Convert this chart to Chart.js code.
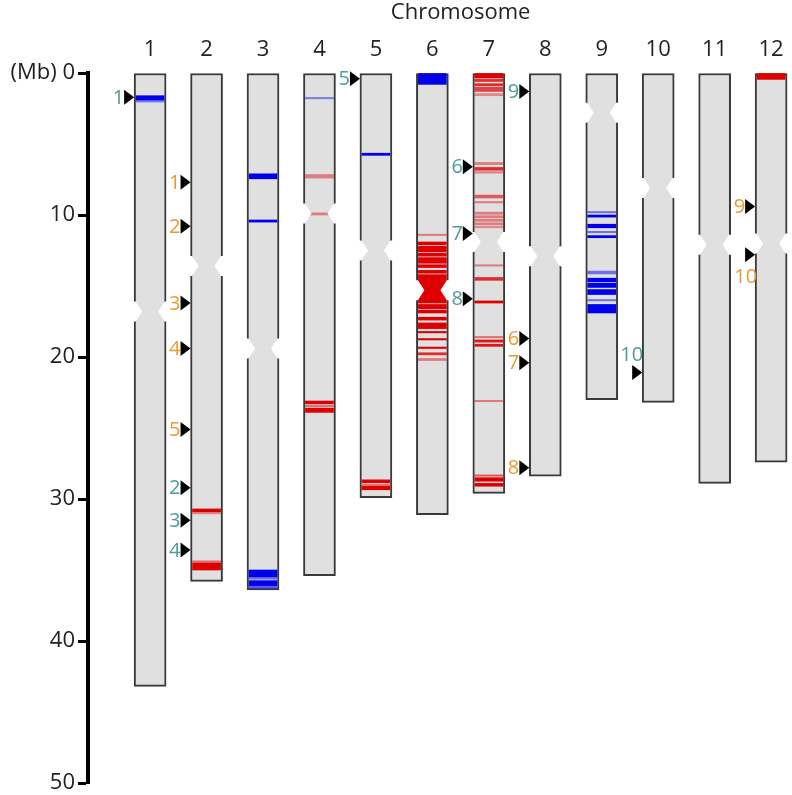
<!DOCTYPE html>
<html>
<head>
<meta charset="utf-8">
<script src="https://cdn.jsdelivr.net/npm/chart.js@4.4.1/dist/chart.umd.min.js"></script>
<style>
  html, body { margin: 0; padding: 0; background: #fff; }
</style>
</head>
<body>
<canvas id="chart" width="792" height="795"></canvas>
<script>
// Chromosomes, lengths and centromere positions (Mb)
const chromosomes = ['1', '2', '3', '4', '5', '6', '7', '8', '9', '10', '11', '12'];
const chromLength = [43.2, 35.8, 36.4, 35.4, 29.9, 31.1, 29.6, 28.4, 23.0, 23.2, 28.9, 27.4];
const centromere = [16.8, 13.6, 19.4, 9.9, 12.5, 15.3, 11.9, 12.9, 2.8, 8.1, 12.1, 12.0];
const yTicks = [0, 10, 20, 30, 40, 50];

// Bands: [chromosome, start Mb, end Mb, strength]
const redBands = [
    [2, 30.7, 30.9, 1], [2, 30.9, 31.05, 0.4], [2, 34.35, 34.45, 0.5], [2, 34.5, 35.0, 1],
    [4, 7.15, 7.4, 0.45], [4, 9.85, 10.0, 0.45], [4, 23.1, 23.3, 1], [4, 23.4, 23.5, 0.5], [4, 23.6, 23.9, 1],
    [5, 28.65, 28.85, 1], [5, 28.95, 29.05, 0.5], [5, 29.1, 29.35, 1],
    [6, 11.35, 11.45, 0.45], [6, 11.9, 12.1, 1], [6, 12.2, 12.6, 1], [6, 12.7, 12.9, 1], [6, 13.0, 13.4, 1],
    [6, 13.5, 13.7, 1], [6, 13.9, 14.1, 1], [6, 14.2, 16.2, 1], [6, 16.3, 16.6, 1], [6, 16.7, 16.9, 1],
    [6, 17.2, 17.4, 1], [6, 17.6, 18.0, 1], [6, 18.2, 18.3, 1], [6, 18.7, 18.8, 1], [6, 19.3, 19.4, 1],
    [6, 19.7, 19.85, 0.8], [6, 20.1, 20.25, 0.45],
    [7, 0, 0.35, 1], [7, 0.45, 0.6, 0.8], [7, 0.75, 0.9, 0.8], [7, 1.0, 1.3, 0.7], [7, 1.45, 1.6, 0.4],
    [7, 6.3, 6.45, 0.45], [7, 6.65, 6.85, 0.8], [7, 6.95, 7.05, 0.45],
    [7, 8.6, 8.8, 0.6], [7, 9.05, 9.15, 0.45], [7, 9.8, 9.95, 0.45], [7, 10.05, 10.2, 0.45],
    [7, 10.3, 10.45, 0.45], [7, 10.55, 10.7, 0.45], [7, 10.8, 10.9, 0.4],
    [7, 13.5, 13.6, 0.45], [7, 14.4, 14.6, 0.8], [7, 16.05, 16.2, 1],
    [7, 18.55, 18.65, 0.5], [7, 18.8, 18.95, 0.9], [7, 19.1, 19.25, 0.9], [7, 23.05, 23.15, 0.45],
    [7, 28.3, 28.4, 0.6], [7, 28.5, 28.75, 1], [7, 28.9, 29.1, 1],
    [12, 0, 0.45, 1]
];
const blueBands = [
    [1, 1.6, 1.9, 1], [1, 1.9, 2.05, 0.45],
    [3, 7.1, 7.45, 1], [3, 10.35, 10.5, 1], [3, 35.0, 35.5, 1], [3, 35.55, 35.65, 0.5],
    [3, 35.75, 36.1, 1], [3, 36.15, 36.3, 0.6],
    [4, 1.72, 1.82, 0.45],
    [5, 5.65, 5.8, 1],
    [6, 0, 0.8, 1],
    [9, 9.75, 9.85, 0.5], [9, 10.0, 10.15, 1], [9, 10.65, 10.9, 1], [9, 11.15, 11.25, 0.5], [9, 11.45, 11.6, 1],
    [9, 13.95, 14.15, 0.5], [9, 14.45, 14.7, 1], [9, 14.8, 15.1, 1], [9, 15.25, 15.6, 1],
    [9, 15.95, 16.05, 0.5], [9, 16.3, 16.9, 1]
];

// Marked loci: chromosome, position (Mb), label, set
const markerChrom = [1, 2, 2, 2, 2, 2, 2, 2, 2, 5, 7, 7, 7, 8, 8, 8, 8, 10, 12, 12];
const markerPos = [1.7, 7.7, 10.8, 16.2, 19.4, 25.1, 29.2, 31.5, 33.6, 0.4, 6.6, 11.3, 15.9, 1.3, 18.7, 20.4, 27.8, 21.1, 9.4, 12.8];
const markerLabel = ['1', '1', '2', '3', '4', '5', '2', '3', '4', '5', '6', '7', '8', '9', '6', '7', '8', '10', '9', '10'];
const markerSet = ['a', 'b', 'b', 'b', 'b', 'b', 'a', 'a', 'a', 'a', 'a', 'a', 'a', 'a', 'b', 'b', 'b', 'a', 'b', 'b'];

const FONT = "'Open Sans', sans-serif";
const BODY_W = 32;
const BAND_W = 28;
const NOTCH_H = 10;
const NOTCH_D = 8;
const markerColors = { a: '#4e9b9b', b: '#e89b2e' };
// labels that sit above / below their arrow instead of left of it
const labelNudge = { 17: { dx: 1, dy: -17 }, 19: { dx: 2, dy: 23 } };

function bandColor(rgb, a) {
    return `rgba(${rgb}, ${a})`;
}

const allBands = [
    ...redBands.map(b => ({ b, c: bandColor('222, 0, 0', b[3]) })),
    ...blueBands.map(b => ({ b, c: bandColor('0, 0, 235', b[3]) }))
];

// Centromere notches, marker arrows and the axis title
const ideogramPlugin = {
    id: 'ideogram',
    afterDatasetsDraw(chart) {
        const { ctx, scales: { x, y } } = chart;
        ctx.save();
        ctx.fillStyle = '#ffffff';
        chromosomes.forEach((c, i) => {
            const cx = x.getPixelForValue(i + 1);
            const cy = y.getPixelForValue(centromere[i]);
            const l = cx - BODY_W / 2, r = cx + BODY_W / 2;
            ctx.beginPath();
            ctx.moveTo(l - 1, cy - NOTCH_H);
            ctx.lineTo(l + 1.5, cy - NOTCH_H);
            ctx.lineTo(l + NOTCH_D, cy);
            ctx.lineTo(l + 1.5, cy + NOTCH_H);
            ctx.lineTo(l - 1, cy + NOTCH_H);
            ctx.closePath();
            ctx.fill();
            ctx.beginPath();
            ctx.moveTo(r + 1, cy - NOTCH_H);
            ctx.lineTo(r - 1.5, cy - NOTCH_H);
            ctx.lineTo(r - NOTCH_D, cy);
            ctx.lineTo(r - 1.5, cy + NOTCH_H);
            ctx.lineTo(r + 1, cy + NOTCH_H);
            ctx.closePath();
            ctx.fill();
        });

        ctx.font = `20px ${FONT}`;
        ctx.textBaseline = 'middle';
        ctx.textAlign = 'right';
        markerChrom.forEach((c, i) => {
            const tip = x.getPixelForValue(c) - BODY_W / 2;
            const py = y.getPixelForValue(markerPos[i]);
            ctx.fillStyle = '#000';
            ctx.beginPath();
            ctx.moveTo(tip, py);
            ctx.lineTo(tip - 10, py - 7.5);
            ctx.lineTo(tip - 10, py + 7.5);
            ctx.closePath();
            ctx.fill();
            const n = labelNudge[i];
            ctx.fillStyle = markerColors[markerSet[i]];
            if (n) {
                ctx.fillText(markerLabel[i], tip + n.dx, py + n.dy);
            } else {
                ctx.fillText(markerLabel[i], tip - 10, py + 1);
            }
        });

        // title centred over the chromosome columns
        ctx.font = `22px ${FONT}`;
        ctx.textAlign = 'center';
        ctx.fillStyle = '#222';
        ctx.fillText('Chromosome', x.getPixelForValue((1 + chromosomes.length) / 2), 13);
        ctx.restore();
    }
};

new Chart(document.getElementById('chart'), {
    type: 'bar',
    data: {
        datasets: [
            {
                label: 'bands',
                data: allBands.map(d => ({ x: d.b[0], y: [d.b[1], d.b[2]] })),
                backgroundColor: allBands.map(d => d.c),
                barThickness: BAND_W,
                grouped: false,
                borderWidth: 0,
                order: 1
            },
            {
                label: 'chromosomes',
                data: chromosomes.map((c, i) => ({ x: i + 1, y: [0, chromLength[i]] })),
                backgroundColor: '#e0e0e0',
                borderColor: '#3a3a3a',
                borderWidth: 2,
                borderSkipped: false,
                barThickness: BODY_W,
                grouped: false,
                order: 2
            }
        ]
    },
    options: {
        responsive: false,
        animation: false,
        layout: { padding: { top: 0, right: 0, bottom: 12, left: 0 } },
        plugins: {
            legend: { display: false },
            tooltip: { enabled: false }
        },
        scales: {
            x: {
                type: 'linear',
                position: 'top',
                offset: false,
                min: -0.1,
                max: 12.37,
                grid: { display: false, drawTicks: false, offset: false },
                border: { display: false },
                afterBuildTicks: s => { s.ticks = chromosomes.map((c, i) => ({ value: i + 1 })); },
                afterFit: s => { s.height = 73; s.paddingLeft = 0; s.paddingRight = 0; },
                ticks: {
                    padding: 10,
                    color: '#222',
                    font: { family: FONT, size: 22 },
                    callback: v => chromosomes[v - 1]
                },
                title: { display: false }
            },
            y: {
                type: 'linear',
                reverse: true,
                min: 0,
                max: 50,
                afterBuildTicks: s => { s.ticks = yTicks.map(v => ({ value: v })); },
                afterFit: s => { s.width = 88; s.paddingTop = 0; s.paddingBottom = 0; },
                grid: {
                    drawOnChartArea: false,
                    drawTicks: true,
                    tickLength: 10,
                    tickWidth: 3,
                    tickColor: '#000'
                },
                border: { display: true, color: '#000', width: 4 },
                ticks: {
                    padding: 3,
                    color: '#222',
                    font: { family: FONT, size: 22 },
                    callback: v => (v === 0 ? '(Mb) 0' : v)
                }
            }
        }
    },
    plugins: [ideogramPlugin]
});
</script>
</body>
</html>
